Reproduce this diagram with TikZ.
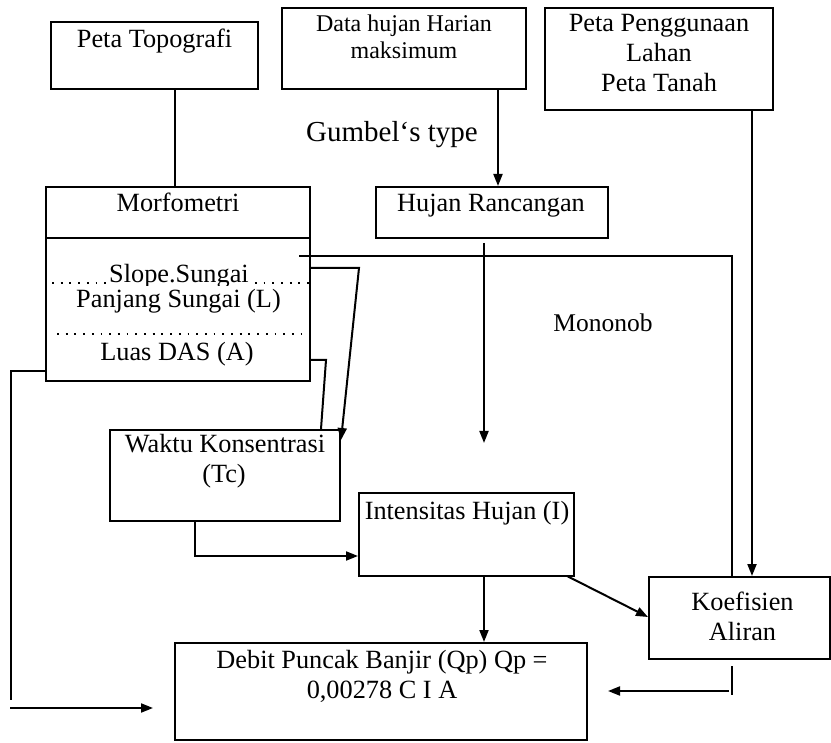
\documentclass[tikz,border=0pt]{standalone}
\usepackage{fontspec}
\setmainfont{Liberation Serif}
\usetikzlibrary{arrows.meta}
\begin{document}
\begin{tikzpicture}[x=1pt,y=-1pt,
  box/.style 2 args={draw, line width=2pt, inner sep=0pt, minimum width=#1, minimum height=#2},
  txt/.style={anchor=base, inner sep=0pt, font=\fontsize{26.3}{30}\selectfont},
  conn/.style={line width=2pt},
  arr/.style={line width=2pt, -{Triangle[length=12pt,width=9pt]}},
  leader/.style={line width=1.8pt, dash pattern=on 1.8pt off 6.9pt}]
\useasboundingbox (0,0) rectangle (831,743);

% boxes
\node[box={207pt}{67pt}]  (topo)   at (154.5,55.5) {};
\node[box={244pt}{81pt}]  (data)   at (404,48.5) {};
\node[box={228pt}{102pt}] (lahan)  at (659,59) {};
\node[box={232pt}{51pt}]  (hujan)  at (492,212.5) {};
\node[box={264pt}{194pt}] (morf)   at (178,284) {};
\node[box={230pt}{91pt}]  (waktu)  at (225,475.5) {};
\node[box={215pt}{83pt}]  (intens) at (466.5,534.5) {};
\node[box={181pt}{82pt}]  (koef)   at (739.5,618) {};
\node[box={412pt}{97pt}]  (debit)  at (381,691.5) {};
\draw[conn] (morf.west |- 0,238) -- (morf.east |- 0,238);

% texts
\node[txt] (topoT) at (154.5,48) {Peta Topografi};
\node[txt, font=\fontsize{24}{28}\selectfont] (dataT1) at (404,32) {Data hujan Harian};
\node[txt, font=\fontsize{24}{28}\selectfont] (dataT2) at (404,59) {maksimum};
\node[txt] (lahanT1) at (659,32) {Peta Penggunaan};
\node[txt] (lahanT2) at (659,62) {Lahan};
\node[txt] (lahanT3) at (659,92) {Peta Tanah};
\node[txt, font=\fontsize{29}{33}\selectfont] (gumbel) at (392,142) {Gumbel‘s type};
\node[txt] (hujanT) at (491,212) {Hujan Rancangan};
\node[txt] (morfT) at (178,212) {Morfometri};
\begin{scope}
  \clip (47,250) rectangle (309,286);
  \node[txt] (slopeT) at (179,283) {Slope.Sungai};
\end{scope}
\coordinate (d1a) at (52,283);
\coordinate (d2a) at (310,283);
\draw[leader] (d1a) -- ([xshift=-3pt]slopeT.base west);
\draw[leader] ([xshift=6pt]slopeT.base east) -- (d2a);
\node[txt] (panjT) at (178.5,308) {Panjang Sungai (L)};
\coordinate (d3a) at (57,334);
\coordinate (d3b) at (310,334);
\draw[leader] (d3a) -- (d3b);
\node[txt] (luasT) at (177,361) {Luas DAS (A)};
\node[txt] (waktuT1) at (225,453) {Waktu Konsentrasi};
\node[txt] (waktuT2) at (224,483) {(Tc)};
\node[txt] (intensT) at (467,520) {Intensitas Hujan (I)};
\node[txt] (koefT1) at (742.5,610) {Koefisien};
\node[txt] (koefT2) at (742.5,640) {Aliran};
\node[txt] (debitT1) at (382,668) {Debit Puncak Banjir (Qp) Qp =};
\node[txt] (debitT2) at (382,698) {0,00278 C I A};
\node[txt, font=\fontsize{25.5}{30}\selectfont] (monoT) at (603,332) {Mononob};

% connectors
\draw[conn] (175,0 |- topo.south) -- (175,0 |- morf.north);
\draw[arr] (498,0 |- data.south) -- (498,0 |- hujan.north);
\coordinate (m1) at (484,243);
\coordinate (m2) at (484,443);
\draw[arr] (m1) -- (m2);
\coordinate (c1) at (299,256);
\draw[conn] (c1) -- (732,256) -- (732,0 |- koef.north);
\draw[arr] (752,0 |- lahan.south) -- (752,0 |- koef.north);
\coordinate (tcA) at (341,440);
\draw[arr] (morf.east |- 0,268) -- (359,268) -- (tcA);
\draw[conn] (morf.east |- 0,360) -- (326,360) -- (321,0 |- waktu.north);
\coordinate (L1) at (11,700);
\draw[conn] (morf.west |- 0,371) -- (11,371) -- (L1);
\coordinate (L2) at (10,708);
\coordinate (L3) at (153,708);
\draw[arr] (L2) -- (L3);
\draw[arr] (195,0 |- waktu.south) -- (195,556) -- (intens.west |- 0,556);
\draw[arr] (484,0 |- intens.south) -- (484,0 |- debit.north);
\coordinate (ic) at (567,576);
\draw[arr] (ic) -- (koef.west |- 0,617);
\coordinate (k1) at (732,666);
\coordinate (k2) at (732,695);
\draw[conn] (k1) -- (k2);
\coordinate (k3) at (729,691);
\coordinate (k4) at (608,691);
\draw[arr] (k3) -- (k4);
\end{tikzpicture}
\end{document}
